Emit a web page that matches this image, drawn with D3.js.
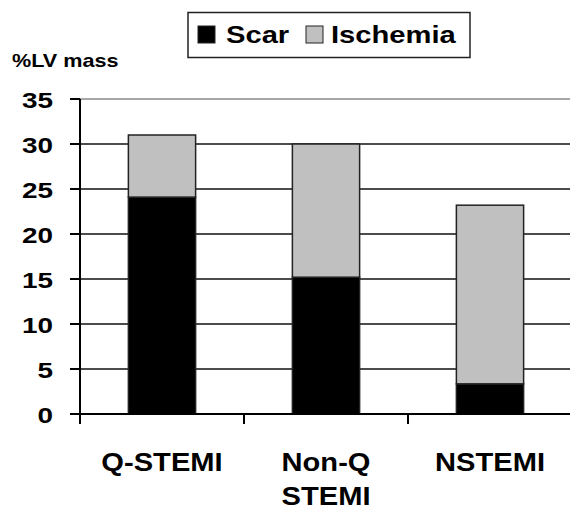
<!DOCTYPE html>
<html>
<head>
<meta charset="utf-8">
<script src="https://cdn.jsdelivr.net/npm/d3@7"></script>
<style>
body{margin:0;background:#fff;}
text{font-family:"Liberation Sans",Arial,sans-serif;font-weight:bold;fill:#000;}
</style>
</head>
<body>
<svg id="c" width="570" height="510"></svg>
<script>
const categories = ["Q-STEMI", "Non-Q\nSTEMI", "NSTEMI"];
const scar = [24.1, 15.2, 3.35];
const ischemia = [6.9, 14.8, 19.85];
const seriesNames = ["Scar", "Ischemia"];
const seriesColors = ["#000000", "#c0c0c0"];
const yTicks = [0, 5, 10, 15, 20, 25, 30, 35];
const yLabel = "%LV mass";

(function () {
const svg = d3.select("#c");
const pLeft = 80, pRight = 572, pTop = 99, pBottom = 414;

const x = d3.scaleBand().domain(categories).range([pLeft, pRight]).paddingInner(0.59).paddingOuter(0.295);
const y = d3.scaleLinear().domain([0, 35]).range([pBottom, pTop]);

// gridlines
svg.append("g").selectAll("line").data(yTicks.filter(d => d > 0)).join("line")
  .attr("x1", pLeft).attr("x2", 570)
  .attr("y1", d => y(d)).attr("y2", d => y(d))
  .attr("stroke", d => d === 35 ? "#8a8a8a" : "#111")
  .attr("stroke-width", 1.5);

// stacked bars
const data = categories.map((c, i) => ({cat: c, Scar: scar[i], Ischemia: ischemia[i]}));
const stack = d3.stack().keys(seriesNames)(data);
svg.append("g").selectAll("g").data(stack).join("g")
  .attr("fill", (d, i) => seriesColors[i])
  .selectAll("rect").data(d => d).join("rect")
  .attr("x", d => x(d.data.cat))
  .attr("width", x.bandwidth())
  .attr("y", d => y(d[1]))
  .attr("height", d => y(d[0]) - y(d[1]))
  .attr("stroke", "#222").attr("stroke-width", 1.5);

// y axis
const ya = svg.append("g");
ya.append("line").attr("x1", pLeft).attr("x2", pLeft).attr("y1", y(35)).attr("y2", pBottom + 10)
  .attr("stroke", "#000").attr("stroke-width", 2);
ya.selectAll("line.t").data(yTicks).join("line").attr("class", "t")
  .attr("x1", pLeft - 10).attr("x2", pLeft)
  .attr("y1", d => y(d)).attr("y2", d => y(d))
  .attr("stroke", "#000").attr("stroke-width", 2);
ya.selectAll("text").data(yTicks).join("text")
  .attr("transform", d => `translate(53,${y(d) + 8.5}) scale(1.24,1)`)
  .attr("text-anchor", "end")
  .style("font-size", "22.5px")
  .text(d => d);

// x axis
const xa = svg.append("g");
xa.append("line").attr("x1", pLeft - 10).attr("x2", 570).attr("y1", pBottom).attr("y2", pBottom)
  .attr("stroke", "#000").attr("stroke-width", 2);
const step = x.step();
const edges = d3.range(categories.length).map(i => pLeft + i * step);
xa.selectAll("line.t").data(edges).join("line").attr("class", "t")
  .attr("x1", d => d).attr("x2", d => d)
  .attr("y1", pBottom).attr("y2", pBottom + 10)
  .attr("stroke", "#000").attr("stroke-width", 2);
const cl = xa.selectAll("text").data(categories).join("text")
  .attr("transform", d => `translate(${x(d) + x.bandwidth() / 2},470.5) scale(1.12,1)`)
  .attr("text-anchor", "middle")
  .style("font-size", "26px");
cl.selectAll("tspan").data(d => d.split("\n")).join("tspan")
  .attr("x", 0).attr("dy", (d, i) => i === 0 ? 0 : 34.5)
  .text(d => d);

// y label
svg.append("text")
  .attr("transform", `translate(12,67) scale(1.2,1)`)
  .style("font-size", "18px")
  .text(yLabel);

// legend
const lg = svg.append("g");
lg.append("rect").attr("x", 188).attr("y", 12.5).attr("width", 282).attr("height", 45)
  .attr("fill", "#fff").attr("stroke", "#222").attr("stroke-width", 1.5);
const legX = [198, 306];
const legTX = [226, 331];
seriesNames.forEach((s, i) => {
  lg.append("rect").attr("x", legX[i]).attr("y", 26).attr("width", 17).attr("height", 17)
    .attr("fill", seriesColors[i]).attr("stroke", "#222").attr("stroke-width", 1);
  lg.append("text")
    .attr("transform", `translate(${legTX[i]},43) scale(1.19,1)`)
    .style("font-size", "24.5px")
    .text(s);
});
})();
</script>
</body>
</html>
